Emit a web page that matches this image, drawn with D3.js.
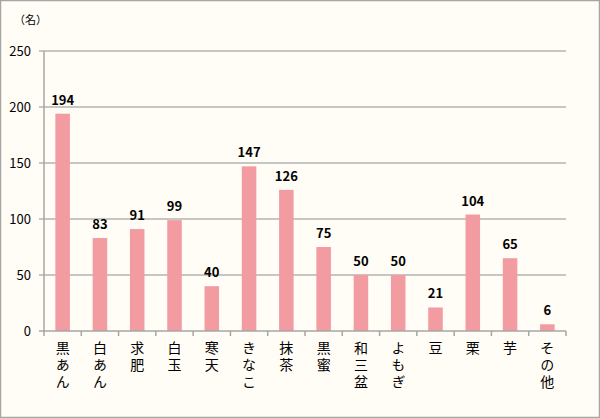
<!DOCTYPE html>
<html>
<head>
<meta charset="utf-8">
<script src="https://cdn.jsdelivr.net/npm/d3@7"></script>
<style>
  body { margin: 0; }
  svg { display: block; }
</style>
</head>
<body>
<div id="chart"></div>
<script>
let categories = ['黒あん', '白あん', '求肥', '白玉', '寒天', 'きなこ', '抹茶', '黒蜜', '和三盆', 'よもぎ', '豆', '栗', '芋', 'その他']
let counts = [194, 83, 91, 99, 40, 147, 126, 75, 50, 50, 21, 104, 65, 6]
let yTicks = [0, 50, 100, 150, 200, 250]

function main () {
  let width = 600
  let height = 418
  let left = 44
  let right = 566
  let top = 51
  let bottom = 331

  let svg = d3.select('#chart').append('svg').attr('width', width).attr('height', height)
  let font = "'Noto Sans CJK JP', 'Noto Sans', sans-serif"

  svg.append('rect')
    .attr('x', 0.5).attr('y', 0.5)
    .attr('width', width - 1).attr('height', height - 1)
    .attr('fill', '#fffdf6')
    .attr('stroke', '#a6a6a6')
    .attr('stroke-width', 1.5)

  let x = d3.scaleBand().domain(categories).range([left, right]).paddingInner(0).paddingOuter(0)
  let y = d3.scaleLinear().domain([0, 250]).range([bottom, top])

  // gridlines + y ticks
  svg.append('g')
    .selectAll('line')
    .data(yTicks.filter((d) => d > 0))
    .join('line')
    .attr('x1', left - 5).attr('x2', right)
    .attr('y1', (d) => y(d)).attr('y2', (d) => y(d))
    .attr('stroke', '#b3b3b3')
    .attr('stroke-width', 1.5)

  svg.append('g')
    .selectAll('text')
    .data(yTicks)
    .join('text')
    .attr('x', 31)
    .attr('y', (d) => y(d))
    .attr('dy', '0.35em')
    .attr('text-anchor', 'end')
    .attr('font-family', font)
    .attr('font-size', 13)
    .attr('fill', '#000')
    .text((d) => d)

  // bars
  let bw = x.bandwidth() * 0.39
  svg.append('g')
    .selectAll('rect')
    .data(counts)
    .join('rect')
    .attr('x', (d, i) => x(categories[i]) + x.bandwidth() / 2 - bw / 2)
    .attr('y', (d) => y(d))
    .attr('width', bw)
    .attr('height', (d) => y(0) - y(d))
    .attr('fill', '#f29ca2')

  // value labels
  svg.append('g')
    .selectAll('text')
    .data(counts)
    .join('text')
    .attr('x', (d, i) => x(categories[i]) + x.bandwidth() / 2)
    .attr('y', (d) => y(d) - 9)
    .attr('text-anchor', 'middle')
    .attr('font-family', font)
    .attr('font-size', 13)
    .attr('font-weight', 'bold')
    .attr('fill', '#000')
    .text((d) => d)

  // axes lines
  svg.append('line')
    .attr('x1', left).attr('x2', left)
    .attr('y1', top).attr('y2', bottom + 1)
    .attr('stroke', '#a6a6a6').attr('stroke-width', 1.5)
  svg.append('line')
    .attr('x1', left - 5).attr('x2', right)
    .attr('y1', bottom).attr('y2', bottom)
    .attr('stroke', '#a6a6a6').attr('stroke-width', 1.5)

  // x ticks at band edges
  let edges = categories.map((c) => x(c)).concat([right])
  svg.append('g')
    .selectAll('line')
    .data(edges)
    .join('line')
    .attr('x1', (d) => d).attr('x2', (d) => d)
    .attr('y1', bottom).attr('y2', bottom + 5)
    .attr('stroke', '#a6a6a6').attr('stroke-width', 1.5)

  // vertical category labels
  svg.append('g')
    .selectAll('text')
    .data(categories)
    .join('text')
    .attr('x', (d) => x(d) + x.bandwidth() / 2)
    .attr('y', 341)
    .style('writing-mode', 'vertical-rl')
    .style('text-orientation', 'upright')
    .style('letter-spacing', '3px')
    .attr('font-family', font)
    .attr('font-size', 14)
    .attr('fill', '#000')
    .text((d) => d)

  svg.append('text')
    .attr('x', 14).attr('y', 24)
    .attr('font-family', font)
    .attr('font-size', 11)
    .attr('fill', '#000')
    .text('（名）')
}

main()
</script>
</body>
</html>
